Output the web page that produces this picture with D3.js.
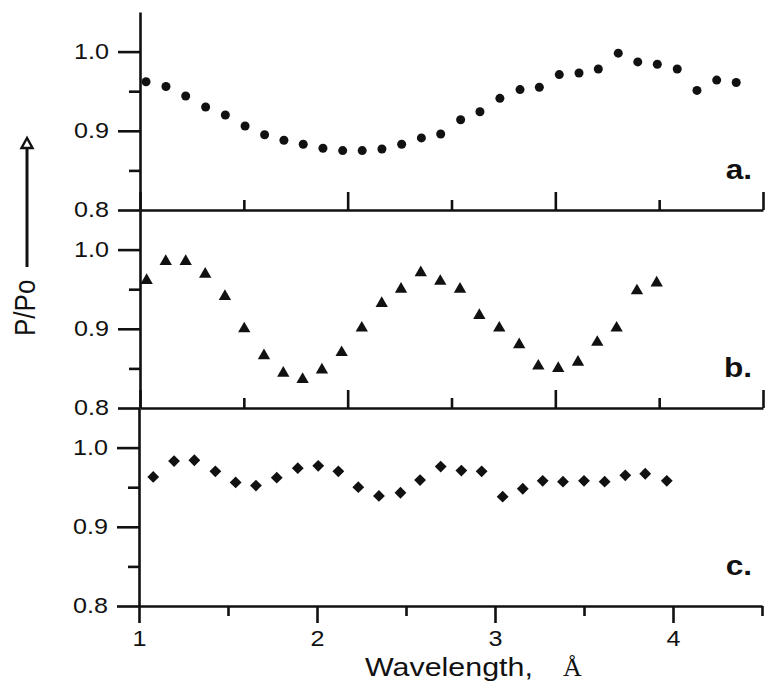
<!DOCTYPE html>
<html>
<head>
<meta charset="utf-8">
<script src="https://cdn.jsdelivr.net/npm/d3@7"></script>
<style>
    body { margin: 0; background: #fff; }
    svg { display: block; font-family: "Liberation Sans", Arial, sans-serif; }
</style>
</head>
<body>
<svg id="chart"></svg>
<script>
// panel a: dots
const waveA = [1.029, 1.125, 1.220, 1.316, 1.411, 1.506, 1.600, 1.693, 1.786, 1.881,
               1.976, 2.070, 2.165, 2.260, 2.355, 2.448, 2.544, 2.637, 2.733, 2.830,
               2.923, 3.019, 3.114, 3.207, 3.303, 3.397, 3.491, 3.587, 3.682, 3.777, 3.871];
const ratioA = [0.962, 0.956, 0.944, 0.930, 0.920, 0.906, 0.895, 0.888, 0.883, 0.878,
                0.875, 0.875, 0.877, 0.883, 0.891, 0.896, 0.914, 0.924, 0.941, 0.952,
                0.955, 0.971, 0.973, 0.978, 0.998, 0.987, 0.984, 0.978, 0.951, 0.964, 0.961];

// panel b: triangles
const waveB = [1.032, 1.124, 1.220, 1.314, 1.409, 1.502, 1.597, 1.690, 1.783, 1.876,
               1.971, 2.068, 2.164, 2.257, 2.352, 2.446, 2.541, 2.634, 2.730, 2.826,
               2.918, 3.014, 3.109, 3.202, 3.295, 3.393, 3.488];
const ratioB = [0.961, 0.985, 0.985, 0.969, 0.941, 0.900, 0.866, 0.844, 0.836, 0.848,
                0.870, 0.901, 0.932, 0.950, 0.971, 0.960, 0.950, 0.917, 0.901, 0.880,
                0.853, 0.850, 0.858, 0.883, 0.901, 0.948, 0.958];

// panel c: diamonds
const waveC = [1.080, 1.197, 1.311, 1.429, 1.543, 1.657, 1.774, 1.892, 2.007, 2.120,
               2.232, 2.348, 2.469, 2.579, 2.695, 2.811, 2.925, 3.043, 3.156, 3.268,
               3.382, 3.500, 3.616, 3.732, 3.844, 3.965];
const ratioC = [0.963, 0.983, 0.984, 0.970, 0.956, 0.952, 0.962, 0.974, 0.977, 0.970,
                0.950, 0.939, 0.943, 0.959, 0.976, 0.971, 0.970, 0.938, 0.948, 0.958,
                0.957, 0.958, 0.957, 0.965, 0.967, 0.958];

const yMajor = [0.8, 0.9, 1.0];
const yMinor = [0.85, 0.95];
const xMajor = [1, 2, 3, 4];
const xMinorAB = [1.5, 2.5, 3.5];
const xMinorC = [1.5, 2.5, 3.5, 4.5];
const panelLabels = ["a.", "b.", "c."];

const width = 766;
const height = 682;
const panelH = 198;
const sx = 1.17; // the scan is a bit stretched horizontally
const ink = "#111";

const svg = d3.select("#chart")
    .attr("width", width)
    .attr("height", height);

const xAB = d3.scaleLinear().domain([1, 4]).range([140, 763]);
const xC = d3.scaleLinear().domain([1, 4.5]).range([139, 762]);

const panels = [
    { wave: waveA, ratio: ratioA, shape: "dot", bottom: 210, x: xAB },
    { wave: waveB, ratio: ratioB, shape: "triangle", bottom: 408, x: xAB },
    { wave: waveC, ratio: ratioC, shape: "diamond", bottom: 606, x: xC }
];

// stretch text like the scan
const stretch = sel => {
    sel.attr("transform", `scale(${sx},1)`)
        .attr("x", function() { return (+this.getAttribute("x") || 0) / sx; });
};

const styleAxis = g => {
    g.attr("font-family", null).attr("font-size", 21.5);
    g.selectAll("path, line").attr("stroke", ink).attr("stroke-width", 2.6);
    g.selectAll("text").attr("fill", ink).call(stretch);
};

panels.forEach((p, i) => {
    const y = d3.scaleLinear().domain([0.8, 1.05]).range([p.bottom, p.bottom - panelH]);
    const x = p.x;
    const g = svg.append("g");
    const left = x.range()[0];

    // y axis
    g.append("g")
        .attr("transform", `translate(${left},0)`)
        .call(d3.axisLeft(y).tickValues(yMajor).tickSize(22).tickSizeOuter(0)
            .tickPadding(9).tickFormat(d3.format(".1f")))
        .call(styleAxis);
    g.append("g")
        .attr("transform", `translate(${left},0)`)
        .call(d3.axisLeft(y).tickValues(yMinor).tickSize(11).tickSizeOuter(0).tickFormat(""))
        .call(g => g.select(".domain").remove())
        .call(styleAxis);

    // x axis
    if (i < 2) {
        g.append("g")
            .attr("transform", `translate(0,${p.bottom})`)
            .call(d3.axisBottom(x).tickValues(xMajor).tickSize(-18).tickSizeOuter(0).tickFormat(""))
            .call(styleAxis);
        g.append("g")
            .attr("transform", `translate(0,${p.bottom})`)
            .call(d3.axisBottom(x).tickValues(xMinorAB).tickSize(-10).tickSizeOuter(0).tickFormat(""))
            .call(g => g.select(".domain").remove())
            .call(styleAxis);
    } else {
        g.append("g")
            .attr("transform", `translate(0,${p.bottom})`)
            .call(d3.axisBottom(x).tickValues(xMajor).tickSize(17).tickSizeOuter(0)
                .tickPadding(8).tickFormat(d3.format("d")))
            .call(styleAxis);
        g.append("g")
            .attr("transform", `translate(0,${p.bottom})`)
            .call(d3.axisBottom(x).tickValues(xMinorC).tickSize(10).tickSizeOuter(0).tickFormat(""))
            .call(g => g.select(".domain").remove())
            .call(styleAxis);
    }

    // points
    const pts = d3.zip(p.wave, p.ratio);
    if (p.shape === "dot") {
        g.selectAll("circle")
            .data(pts)
            .enter()
            .append("circle")
            .attr("cx", d => x(d[0]))
            .attr("cy", d => y(d[1]))
            .attr("r", 4.5)
            .attr("fill", ink);
    } else if (p.shape === "triangle") {
        g.selectAll("path.pt")
            .data(pts)
            .enter()
            .append("path")
            .attr("class", "pt")
            .attr("d", d3.symbol(d3.symbolTriangle, 66))
            .attr("transform", d => `translate(${x(d[0])},${y(d[1])})`)
            .attr("fill", ink);
    } else {
        g.selectAll("path.pt")
            .data(pts)
            .enter()
            .append("path")
            .attr("class", "pt")
            .attr("d", d3.symbol(d3.symbolSquare, 70))
            .attr("transform", d => `translate(${x(d[0])},${y(d[1])}) rotate(45)`)
            .attr("fill", ink);
    }

    // panel letter
    svg.append("text")
        .attr("transform", `translate(752,${p.bottom - 31}) scale(${sx},1)`)
        .attr("text-anchor", "end")
        .attr("font-size", 27)
        .attr("font-weight", "bold")
        .attr("fill", ink)
        .text(panelLabels[i]);
});

// y title with arrow
svg.append("text")
    .attr("transform", `translate(35,336) scale(${sx},1) rotate(-90)`)
    .attr("font-size", 26)
    .attr("fill", ink)
    .text("P/Po");

svg.append("line")
    .attr("x1", 27).attr("x2", 27)
    .attr("y1", 267).attr("y2", 148)
    .attr("stroke", ink)
    .attr("stroke-width", 3);

svg.append("path")
    .attr("d", "M27,138 L21.5,148 L32.5,148 Z")
    .attr("fill", "#fff")
    .attr("stroke", ink)
    .attr("stroke-width", 2.4)
    .attr("stroke-linejoin", "miter");

// x title
svg.append("text")
    .attr("transform", `translate(365,676) scale(${sx},1)`)
    .attr("font-size", 26)
    .attr("fill", ink)
    .text("Wavelength,");

svg.append("text")
    .attr("transform", "translate(563,676)")
    .attr("font-family", "'Liberation Serif', 'Times New Roman', serif")
    .attr("font-size", 26)
    .attr("fill", ink)
    .text("Å");
</script>
</body>
</html>
